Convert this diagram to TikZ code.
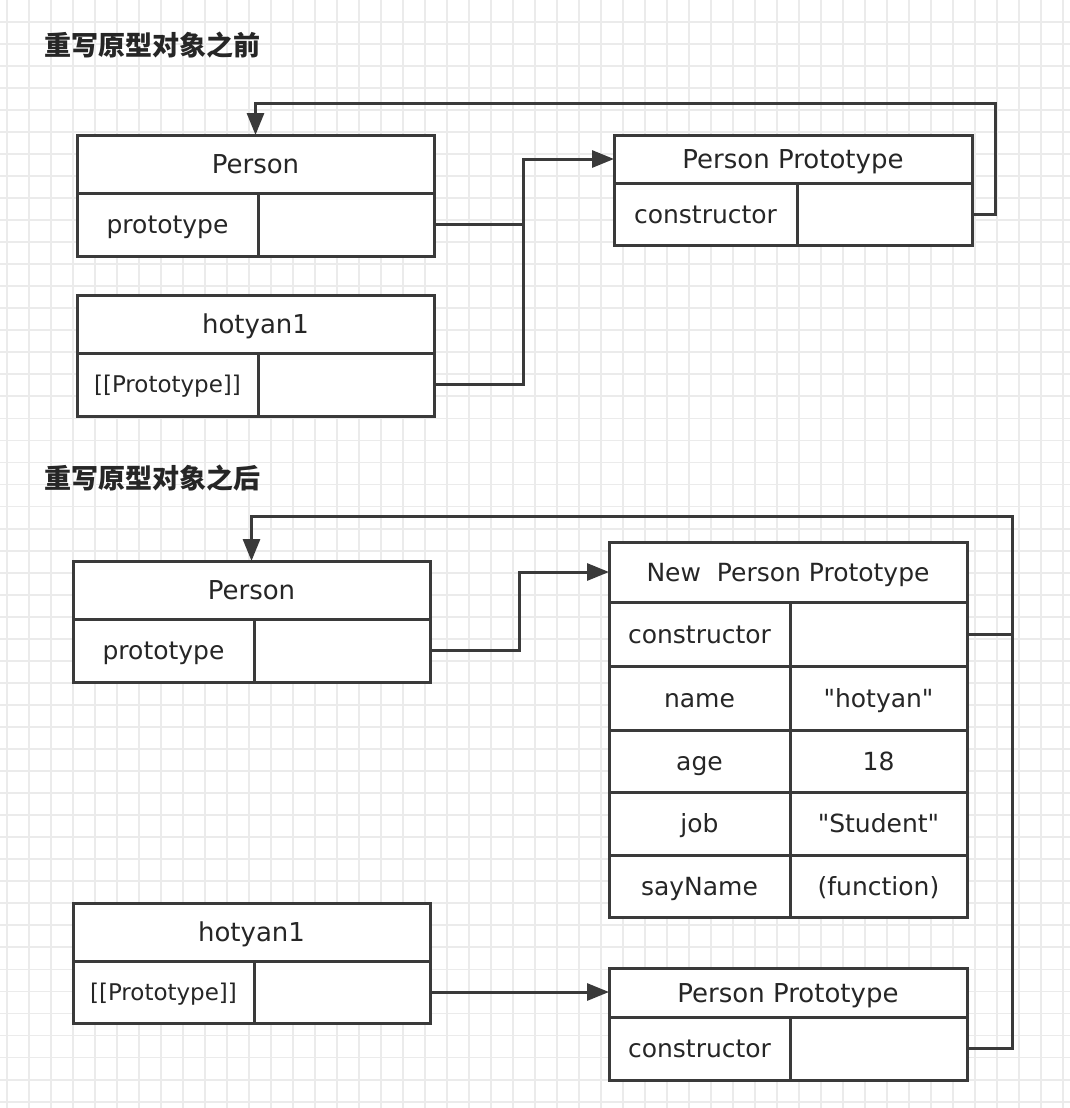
\documentclass[tikz,border=0pt]{standalone}
\usepackage{fontspec}
\newfontfamily\mainf{DejaVu Sans}
\newfontfamily\cjk{Noto Sans CJK SC}
\usetikzlibrary{arrows.meta}
\definecolor{lc}{RGB}{58,58,58}
\definecolor{tc}{RGB}{38,38,38}
\definecolor{gridc}{RGB}{235,235,235}
\tikzset{
  cell/.style={draw=lc, fill=white, line width=3pt, inner sep=0pt, outer sep=0pt,
    anchor=north west, text=tc, text height=18.2pt, text depth=0pt,
    font=\mainf\fontsize{25}{30}\selectfont},
  hd/.style={cell, text height=19pt, font=\mainf\fontsize{26}{30}\selectfont},
  sm/.style={cell, text height=16.8pt, font=\mainf\fontsize{23}{28}\selectfont},
  conn/.style={draw=lc, line width=3pt},
  arr/.style={conn, -{Triangle[length=22pt,width=17pt]}},
  title/.style={anchor=west, inner sep=0pt, text=tc, font=\cjk\bfseries\fontsize{27}{30}\selectfont}
}
\begin{document}
\begin{tikzpicture}[x=1pt,y=-1pt]
\path[use as bounding box, fill=white] (0,0) rectangle (1070,1108);
\foreach \k in {0,...,48} \draw[gridc, line width=1.8pt] ({6.7+22*\k},0) -- ({6.7+22*\k},1108);
\foreach \k in {1,...,50} \draw[gridc, line width=1.8pt] (0,{-0.34+22.04*\k}) -- (1070,{-0.34+22.04*\k});

% titles
\node[title] (t1) at (44,45) {重写原型对象之前};
\node[title] (t2) at (44,478) {重写原型对象之后};

% ---------- before ----------
\node[hd, minimum width=357pt, minimum height=58pt] (P1h) at (77,135) {Person};
\node[cell, minimum width=181pt, minimum height=63pt] (P1a) at (77,193) {prototype};
\node[cell, minimum width=176pt, minimum height=63pt] (P1b) at (258,193) {};

\node[hd, minimum width=357pt, minimum height=58pt] (H1h) at (77,295) {hotyan1};
\node[sm, minimum width=181pt, minimum height=63pt] (H1a) at (77,353) {[[Prototype]]};
\node[cell, minimum width=176pt, minimum height=63pt] (H1b) at (258,353) {};

\node[hd, minimum width=358pt, minimum height=48pt] (PP1h) at (614,135) {Person Prototype};
\node[cell, minimum width=183pt, minimum height=62pt] (PP1a) at (614,183) {constructor};
\node[cell, minimum width=175pt, minimum height=62pt] (PP1b) at (797,183) {};

\coordinate (j1) at (523,159);
\coordinate (c1) at (995,103);
\draw[conn] (H1b.east) -| (j1);
\draw[arr] (P1b.east) -| (j1) -- (PP1h.west);
\draw[arr] (PP1b.east) -| (c1) -| (P1h.north);

% ---------- after ----------
\node[hd, minimum width=357pt, minimum height=58pt] (P2h) at (73,561) {Person};
\node[cell, minimum width=181pt, minimum height=63pt] (P2a) at (73,619) {prototype};
\node[cell, minimum width=176pt, minimum height=63pt] (P2b) at (254,619) {};

\node[hd, minimum width=357pt, minimum height=58pt] (H2h) at (73,903) {hotyan1};
\node[sm, minimum width=181pt, minimum height=62pt] (H2a) at (73,961) {[[Prototype]]};
\node[cell, minimum width=176pt, minimum height=62pt] (H2b) at (254,961) {};

\node[cell, minimum width=358pt, minimum height=60pt] (NPh) at (609,542) {New\ \ Person Prototype};
\node[cell, minimum width=181pt, minimum height=64pt] (NPca) at (609,602) {constructor};
\node[cell, minimum width=177pt, minimum height=64pt] (NPcb) at (790,602) {};
\node[cell, minimum width=181pt, minimum height=64pt] (NPna) at (609,666) {name};
\node[cell, minimum width=177pt, minimum height=64pt] (NPnb) at (790,666) {"hotyan"};
\node[cell, minimum width=181pt, minimum height=62pt] (NPaa) at (609,730) {age};
\node[cell, minimum width=177pt, minimum height=62pt] (NPab) at (790,730) {18};
\node[cell, minimum width=181pt, minimum height=63pt] (NPja) at (609,792) {job};
\node[cell, minimum width=177pt, minimum height=63pt] (NPjb) at (790,792) {"Student"};
\node[cell, minimum width=181pt, minimum height=62pt] (NPsa) at (609,855) {sayName};
\node[cell, minimum width=177pt, minimum height=62pt] (NPsb) at (790,855) {(function)};

\node[hd, minimum width=358pt, minimum height=49pt] (PP2h) at (609,968) {Person Prototype};
\node[cell, minimum width=181pt, minimum height=63pt] (PP2a) at (609,1017) {constructor};
\node[cell, minimum width=177pt, minimum height=63pt] (PP2b) at (790,1017) {};

\coordinate (j2) at (519,572);
\coordinate (c2) at (1012,516);
\draw[arr] (P2b.east) -| (j2) -- (NPh.west);
\draw[arr] (H2b.east) -- (H2b.east -| PP2h.west);
\draw[arr] (PP2b.east) -| (c2) -| (P2h.north);
\draw[conn] (NPcb.east) -- (NPcb.east -| c2);
\end{tikzpicture}
\end{document}
